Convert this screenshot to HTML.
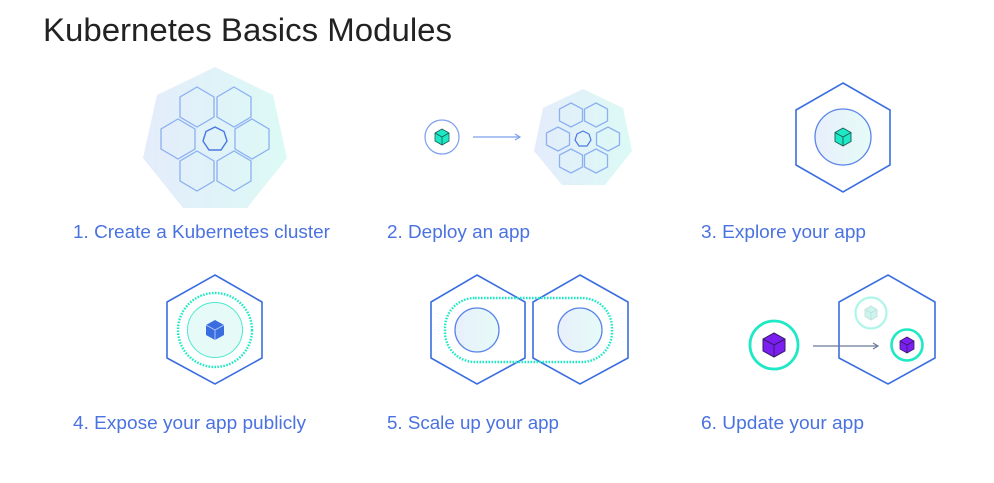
<!DOCTYPE html>
<html><head><meta charset="utf-8"><style>
html,body{margin:0;padding:0;background:#fff;}
svg{display:block;}
text{font-family:"Liberation Sans",sans-serif;}
.lb{fill:#4a72e0;font-size:18px;}
.hx{fill:none;stroke:#3a6ee0;stroke-width:1.6;}
.sh{fill:none;stroke:#8db0f2;stroke-width:1.3;}
</style></head><body>
<svg width="994" height="483" viewBox="0 0 994 483" xmlns="http://www.w3.org/2000/svg">
<defs>
<linearGradient id="g1" x1="0" y1="0" x2="1" y2="0"><stop offset="0" stop-color="#e4ecfb"/><stop offset="1" stop-color="#dcfaf5"/></linearGradient>
<linearGradient id="g2" x1="0" y1="0" x2="1" y2="0"><stop offset="0" stop-color="#e8effc"/><stop offset="1" stop-color="#e6fbf7"/></linearGradient>
</defs>
<text x="43" y="41" font-size="32" fill="#222" textLength="409" lengthAdjust="spacingAndGlyphs">Kubernetes Basics Modules</text>

<!-- 1 -->
<polygon points="215,67 273,95 287,158 247,208 183,208 143,158 157,95" fill="url(#g1)"/>
<g class="sh">
<polygon points="197,87 214,97 214,117 197,127 180,117 180,97"/>
<polygon points="234,87 251,97 251,117 234,127 217,117 217,97"/>
<polygon points="178,119 195,129 195,149 178,159 161,149 161,129"/>
<polygon points="252,119 269,129 269,149 252,159 235,149 235,129"/>
<polygon points="197,151 214,161 214,181 197,191 180,181 180,161"/>
<polygon points="234,151 251,161 251,181 234,191 217,181 217,161"/>
</g>
<polygon points="215,127 224,131.5 227,141 221,150 209,150 203,141 206,131.5" fill="none" stroke="#4d78e2" stroke-width="1.4"/>
<text x="73" y="238" class="lb" textLength="257" lengthAdjust="spacingAndGlyphs">1. Create a Kubernetes cluster</text>

<!-- 2 -->
<circle cx="442" cy="137" r="17" fill="#fff" stroke="#7c9fee" stroke-width="1.2"/>
<g stroke="#1a5a55" stroke-width="0.8">
<polygon points="442,129 449,133 449,141 442,145 435,141 435,133" fill="#1de9c4"/>
<polyline points="435,133 442,137 449,133" fill="none"/><line x1="442" y1="137" x2="442" y2="145"/>
</g>
<line x1="473" y1="137" x2="519" y2="137" stroke="#7c9fee" stroke-width="1.2"/>
<polyline points="515,134 520,137 515,140" fill="none" stroke="#7c9fee" stroke-width="1.2"/>
<polygon points="583,89 623,108 632,151 605,185 562,185 534,151 543,108" fill="url(#g1)"/>
<g class="sh">
<polygon points="571,103 582.5,109 582.5,121 571,127 559.5,121 559.5,109"/>
<polygon points="596,103 607.5,109 607.5,121 596,127 584.5,121 584.5,109"/>
<polygon points="558,127 569.5,133 569.5,145 558,151 546.5,145 546.5,133"/>
<polygon points="608,127 619.5,133 619.5,145 608,151 596.5,145 596.5,133"/>
<polygon points="571,149 582.5,155 582.5,167 571,173 559.5,167 559.5,155"/>
<polygon points="596,149 607.5,155 607.5,167 596,173 584.5,167 584.5,155"/>
</g>
<polygon points="583,131 589,134 591,140 587,146 579,146 575,140 577,134" fill="none" stroke="#4d78e2" stroke-width="1.2"/>
<text x="387" y="238" class="lb" textLength="143" lengthAdjust="spacingAndGlyphs">2. Deploy an app</text>

<!-- 3 -->
<polygon class="hx" points="843,83 890,110 890,165 843,192 796,165 796,110"/>
<circle cx="843" cy="137" r="28" fill="url(#g2)" stroke="#5b85ea" stroke-width="1.3"/>
<g stroke="#1a5a55" stroke-width="0.9">
<polygon points="843,128 851,132.5 851,141.5 843,146 835,141.5 835,132.5" fill="#1de9c4"/>
<polyline points="835,132.5 843,137 851,132.5" fill="none"/><line x1="843" y1="137" x2="843" y2="146"/>
</g>
<text x="701" y="238" class="lb" textLength="165" lengthAdjust="spacingAndGlyphs">3. Explore your app</text>

<!-- 4 -->
<polygon class="hx" points="215,275 262,302 262,358 215,384 167,358 167,302"/>
<circle cx="215" cy="330" r="37" fill="none" stroke="#1de9c4" stroke-width="2.4" stroke-dasharray="1.6 1.4"/>
<circle cx="215" cy="330" r="27.5" fill="#e6fbf8" stroke="#4ce8cf" stroke-width="1"/>
<g>
<polygon points="215,320 224,325 224,335 215,340 206,335 206,325" fill="#3a6ee0"/>
<polyline points="206,325 215,330 224,325" fill="none" stroke="#b8ccf5" stroke-width="0.9"/><line x1="215" y1="330" x2="215" y2="340" stroke="#b8ccf5" stroke-width="0.9"/>
</g>
<text x="73" y="429" class="lb" textLength="233" lengthAdjust="spacingAndGlyphs">4. Expose your app publicly</text>

<!-- 5 -->
<polygon class="hx" points="477,275 525,302 525,358 477,384 431,358 431,302"/>
<polygon class="hx" points="580,275 628,302 628,358 580,384 533,358 533,302"/>
<rect x="445" y="298" width="167" height="64" rx="30" fill="none" stroke="#1de9c4" stroke-width="2.4" stroke-dasharray="1.6 1.4"/>
<circle cx="477" cy="330" r="22" fill="url(#g2)" stroke="#5b85ea" stroke-width="1.3"/>
<circle cx="580" cy="330" r="22" fill="url(#g2)" stroke="#5b85ea" stroke-width="1.3"/>
<text x="387" y="429" class="lb" textLength="172" lengthAdjust="spacingAndGlyphs">5. Scale up your app</text>

<!-- 6 -->
<polygon class="hx" points="888,275 935,302 935,358 888,384 839,358 839,302"/>
<circle cx="871" cy="313" r="15.5" fill="none" stroke="#aef5ea" stroke-width="2.2"/>
<g stroke="#bfe0db" stroke-width="0.8">
<polygon points="871,306 877,309.5 877,316.5 871,320 865,316.5 865,309.5" fill="#cdf5ee"/>
<polyline points="865,309.5 871,313 877,309.5" fill="none"/><line x1="871" y1="313" x2="871" y2="320"/>
</g>
<circle cx="907" cy="345" r="15.5" fill="#fff" stroke="#1de9c4" stroke-width="2.6"/>
<g stroke="#3a1a6a" stroke-width="0.8">
<polygon points="907,337 914,341 914,349 907,353 900,349 900,341" fill="#7a1ff0"/>
<polyline points="900,341 907,345 914,341" fill="none"/><line x1="907" y1="345" x2="907" y2="353"/>
</g>
<circle cx="774" cy="345" r="24" fill="#fff" stroke="#1de9c4" stroke-width="2.8"/>
<g stroke="#3a1a6a" stroke-width="1">
<polygon points="774,333 785,339 785,351 774,357 763,351 763,339" fill="#7a1ff0"/>
<polyline points="763,339 774,345 785,339" fill="none"/><line x1="774" y1="345" x2="774" y2="357"/>
</g>
<line x1="813" y1="346" x2="877" y2="346" stroke="#6a7a9a" stroke-width="1.2"/>
<polyline points="873,343 878,346 873,349" fill="none" stroke="#6a7a9a" stroke-width="1.2"/>
<text x="701" y="429" class="lb" textLength="163" lengthAdjust="spacingAndGlyphs">6. Update your app</text>
</svg>
</body></html>
